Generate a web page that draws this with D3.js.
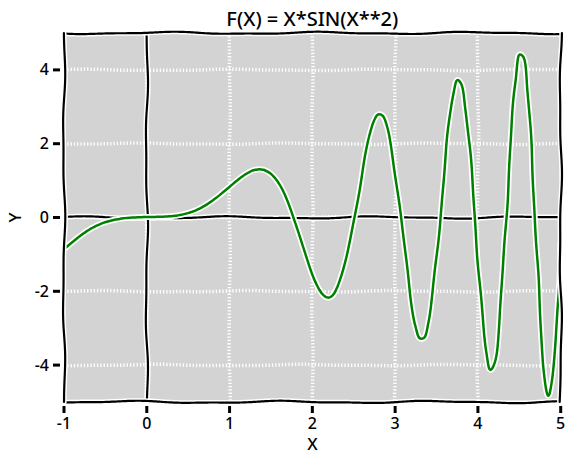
<!DOCTYPE html>
<html>
<head>
<meta charset="UTF-8">
<script src="https://d3js.org/d3.v7.min.js"></script>
<style>
  body { margin: 0; background: #ffffff; }
  text { font-family: "Noto Sans", "DejaVu Sans", sans-serif; font-weight: 500; fill: #000; }
</style>
</head>
<body>
<div id="chart"></div>
<script>
// values: f(x) = x*sin(x**2)
var xsLeft = [-1.0, -0.9, -0.8, -0.7, -0.6, -0.5, -0.4, -0.3, -0.2, -0.1, 0.0,
              0.1, 0.2, 0.3, 0.4, 0.5, 0.6, 0.7, 0.8, 0.9, 1.0,
              1.1, 1.2, 1.3, 1.4, 1.5, 1.6, 1.7, 1.8, 1.9];
var ysLeft = [-0.841, -0.652, -0.478, -0.329, -0.211, -0.124, -0.064, -0.027, -0.008, -0.001, 0.0,
              0.001, 0.008, 0.027, 0.064, 0.124, 0.211, 0.329, 0.478, 0.652, 0.841,
              1.029, 1.190, 1.291, 1.295, 1.167, 0.878, 0.423, -0.177, -0.859];
var xsRight = [2.0, 2.05, 2.1, 2.15, 2.2, 2.25, 2.3, 2.35, 2.4, 2.45,
               2.5, 2.55, 2.6, 2.65, 2.7, 2.75, 2.8, 2.85, 2.9, 2.95,
               3.0, 3.05, 3.1, 3.15, 3.2, 3.25, 3.3, 3.35, 3.4, 3.45,
               3.5, 3.55, 3.6, 3.65, 3.7, 3.75, 3.8, 3.85, 3.9, 3.95,
               4.0, 4.05, 4.1, 4.15, 4.2, 4.25, 4.3, 4.35, 4.4, 4.45,
               4.5, 4.55, 4.6, 4.65, 4.7, 4.75, 4.8, 4.85, 4.9, 4.95, 5.0];
var ysRight = [-1.514, -1.789, -2.005, -2.141, -2.182, -2.114, -1.926, -1.619, -1.200, -0.678,
               -0.083, 0.555, 1.193, 1.786, 2.282, 2.634, 2.800, 2.748, 2.464, 1.950,
               1.236, 0.372, -0.572, -1.504, -2.329, -2.950, -3.281, -3.264, -2.872, -2.126,
               -1.089, 0.128, 1.381, 2.504, 3.337, 3.740, 3.627, 2.982, 1.863, 0.416,
               -1.152, -2.591, -3.658, -4.143, -3.929, -3.009, -1.513, 0.317, 2.150, 3.628,
               4.435, 4.370, 3.398, 1.676, -0.464, -2.568, -4.161, -4.846, -4.418, -2.917, -0.662];
var xTicks = [-1, 0, 1, 2, 3, 4, 5];
var yTicks = [-4, -2, 0, 2, 4];
var xGrid = [0, 1, 2, 3, 4];
var yGrid = [-4, -2, 0, 2, 4];
var titleText = "F(X) = X*SIN(X**2)";

var width = 576, height = 462;
var axLeft = 64, axRight = 560.7, axTop = 33, axBottom = 402;

var svg = d3.select("#chart").append("svg")
    .attr("width", width)
    .attr("height", height);

var x = d3.scaleLinear().domain([-1, 5]).range([axLeft, axRight]);
var y = d3.scaleLinear().domain([-5, 5]).range([axBottom, axTop]);

var points = [];
for (var i = 0; i < xsLeft.length; i++) points.push([xsLeft[i], ysLeft[i]]);
for (var j = 0; j < xsRight.length; j++) points.push([xsRight[j], ysRight[j]]);

// hand drawn look: resample a path and push it sideways a little
var tmp = svg.append("path").attr("fill", "none");
function wiggle(d, amp, seed) {
    tmp.attr("d", d);
    var node = tmp.node();
    var len = node.getTotalLength();
    var n = Math.max(2, Math.ceil(len / 2));
    var pts = [];
    for (var k = 0; k <= n; k++) {
        var s = len * k / n;
        var p = node.getPointAtLength(s);
        var p0 = node.getPointAtLength(Math.max(0, s - 1));
        var p1 = node.getPointAtLength(Math.min(len, s + 1));
        var dx = p1.x - p0.x, dy = p1.y - p0.y;
        var l = Math.sqrt(dx * dx + dy * dy) || 1;
        var off = amp * (0.7 * Math.sin(s / 24 + seed) + 0.3 * Math.sin(s / 11 + seed * 2.1));
        pts.push([p.x - dy / l * off, p.y + dx / l * off]);
    }
    return d3.line().curve(d3.curveBasis)(pts);
}
function seg(x1, y1, x2, y2) {
    return "M" + x1 + "," + y1 + "L" + x2 + "," + y2;
}

svg.append("clipPath").attr("id", "clip")
    .append("rect")
    .attr("x", axLeft).attr("y", axTop)
    .attr("width", axRight - axLeft).attr("height", axBottom - axTop);

// axes background
var bg = "M" + axLeft + "," + axTop + "L" + axRight + "," + axTop + "L" + axRight + "," + axBottom + "L" + axLeft + "," + axBottom + "Z";
svg.append("path")
    .attr("d", wiggle(bg, 1.2, 0.5) + "Z")
    .attr("fill", "#d3d3d3");

var plot = svg.append("g").attr("clip-path", "url(#clip)");

// grid
xGrid.forEach(function (v, i) {
    plot.append("path")
        .attr("d", wiggle(seg(x(v), axTop, x(v), axBottom), 0.8, i * 1.7))
        .attr("fill", "none")
        .attr("stroke", "white")
        .attr("stroke-width", 3.5)
        .attr("stroke-dasharray", "1.3 2");
});
yGrid.forEach(function (v, i) {
    plot.append("path")
        .attr("d", wiggle(seg(axLeft, y(v), axRight, y(v)), 0.8, i * 2.3 + 1))
        .attr("fill", "none")
        .attr("stroke", "white")
        .attr("stroke-width", 3.5)
        .attr("stroke-dasharray", "1.3 2");
});

// axhline / axvline
function outlined(g, d, color, w) {
    g.append("path").attr("d", d).attr("fill", "none")
        .attr("stroke", "white").attr("stroke-width", w + 3)
        .attr("stroke-linecap", "round");
    g.append("path").attr("d", d).attr("fill", "none")
        .attr("stroke", color).attr("stroke-width", w)
        .attr("stroke-linecap", "round");
}
outlined(plot, wiggle(seg(axLeft, y(0), axRight, y(0)), 1.3, 4.2), "black", 2.2);
outlined(plot, wiggle(seg(x(0), axTop, x(0), axBottom), 1.3, 2.9), "black", 2.2);

// the curve
var line = d3.line()
    .x(function (d) { return x(d[0]); })
    .y(function (d) { return y(d[1]); })
    .curve(d3.curveCatmullRom);
var curveD = wiggle(line(points), 0.6, 0.7);
plot.append("path").attr("d", curveD).attr("fill", "none")
    .attr("stroke", "white").attr("stroke-width", 6).attr("stroke-linejoin", "round");
plot.append("path").attr("d", curveD).attr("fill", "none")
    .attr("stroke", "green").attr("stroke-width", 2.5).attr("stroke-linejoin", "round");

// spines
var spines = svg.append("g");
outlined(spines, wiggle(seg(axLeft, axTop, axRight, axTop), 1.3, 0.3), "black", 2.2);
outlined(spines, wiggle(seg(axLeft, axBottom, axRight, axBottom), 1.3, 1.9), "black", 2.2);
outlined(spines, wiggle(seg(axLeft, axTop, axLeft, axBottom), 1.3, 3.3), "black", 2.2);
outlined(spines, wiggle(seg(axRight, axTop, axRight, axBottom), 1.3, 5.1), "black", 2.2);

// ticks
xTicks.forEach(function (v) {
    svg.append("line")
        .attr("x1", x(v)).attr("x2", x(v))
        .attr("y1", axBottom + 4).attr("y2", axBottom + 11)
        .attr("stroke", "black").attr("stroke-width", 3);
    svg.append("text")
        .attr("x", x(v)).attr("y", 429)
        .attr("text-anchor", "middle")
        .attr("font-size", 16)
        .text(v);
});
yTicks.forEach(function (v) {
    svg.append("line")
        .attr("x1", axLeft - 11).attr("x2", axLeft - 4)
        .attr("y1", y(v)).attr("y2", y(v))
        .attr("stroke", "black").attr("stroke-width", 3);
    svg.append("text")
        .attr("x", 49).attr("y", y(v) + 5.5)
        .attr("text-anchor", "end")
        .attr("font-size", 16)
        .text(v);
});

// labels
svg.append("text")
    .attr("x", (axLeft + axRight) / 2).attr("y", 450)
    .attr("text-anchor", "middle")
    .attr("font-size", 17)
    .text("X");
svg.append("text")
    .attr("transform", "translate(21," + y(0) + ") rotate(-90)")
    .attr("text-anchor", "middle")
    .attr("font-size", 17)
    .text("Y");
svg.append("text")
    .attr("x", (axLeft + axRight) / 2).attr("y", 26)
    .attr("text-anchor", "middle")
    .attr("font-size", 20)
    .text(titleText);

tmp.remove();
</script>
</body>
</html>
